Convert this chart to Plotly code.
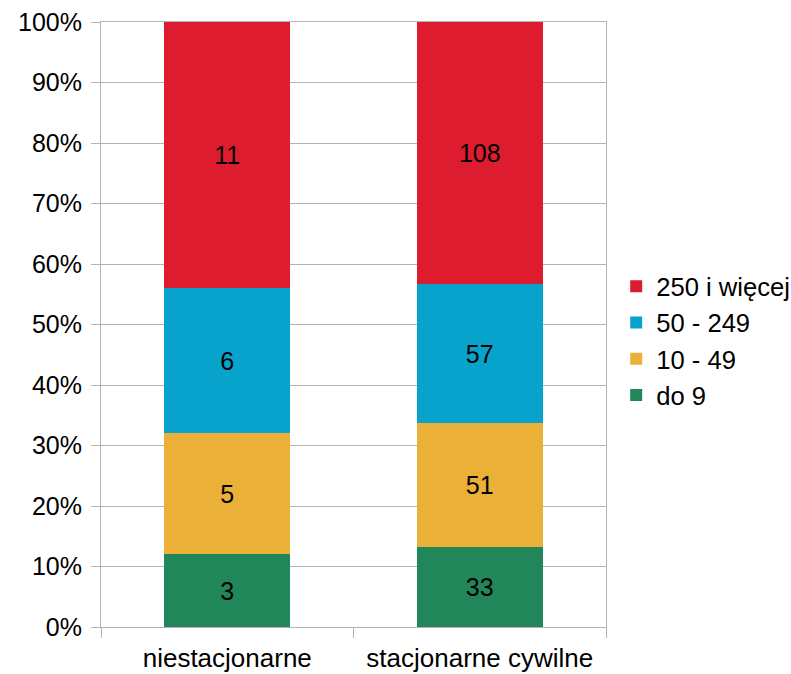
import plotly.graph_objects as go

categories = ["niestacjonarne", "stacjonarne cywilne"]
series_names = ["do 9", "10 - 49", "50 - 249", "250 i więcej"]
do_9 = [3, 33]
od_10_do_49 = [5, 51]
od_50_do_249 = [6, 57]
od_250 = [11, 108]
y_ticks = [0, 10, 20, 30, 40, 50, 60, 70, 80, 90, 100]

colors = ["#21875a", "#ebb038", "#08a3cc", "#dd1d2f"]
values = [do_9, od_10_do_49, od_50_do_249, od_250]

fig = go.Figure()
for name, vals, col in zip(series_names, values, colors):
    fig.add_trace(go.Bar(
        x=categories, y=vals, name=name,
        marker=dict(color=col, line=dict(width=0)),
        text=[str(v) for v in vals],
        textposition="inside", insidetextanchor="middle",
        textfont=dict(color="black", size=25),
        width=0.5,
    ))

fig.update_layout(
    barmode="stack",
    barnorm="percent",
    width=791, height=674,
    margin=dict(l=101, r=185, t=22, b=47),
    paper_bgcolor="white", plot_bgcolor="white",
    font=dict(family="Liberation Sans", size=25, color="black"),
    showlegend=True,
    legend=dict(
        traceorder="reversed",
        xref="container", yref="container",
        x=0.779, xanchor="left", y=0.494, yanchor="middle",
        font=dict(size=25.6), itemwidth=30, tracegroupgap=0,
    ),
    xaxis=dict(
        showline=True, linecolor="#b3b3b3", linewidth=1, mirror=True,
        ticks="outside", tickson="boundaries", ticklen=10, tickcolor="#b3b3b3",
        showgrid=False, tickfont=dict(size=26), tickangle=0, automargin=False,
        ticklabelstandoff=8,
    ),
    yaxis=dict(
        range=[0, 100],
        tickvals=y_ticks, ticktext=[f"{t}%" for t in y_ticks],
        showline=True, linecolor="#b3b3b3", linewidth=1, mirror=True,
        ticks="outside", ticklen=9, tickcolor="#b3b3b3",
        gridcolor="#b3b3b3", gridwidth=1, tickfont=dict(size=25),
        automargin=False, ticklabeloverflow="allow", ticklabelstandoff=4,
    ),
)

# drop the default 8px body margin so the figure fills the window
fig.write_html("out.html", config={"displayModeBar": False},
               post_script="document.body.style.margin='0';")
